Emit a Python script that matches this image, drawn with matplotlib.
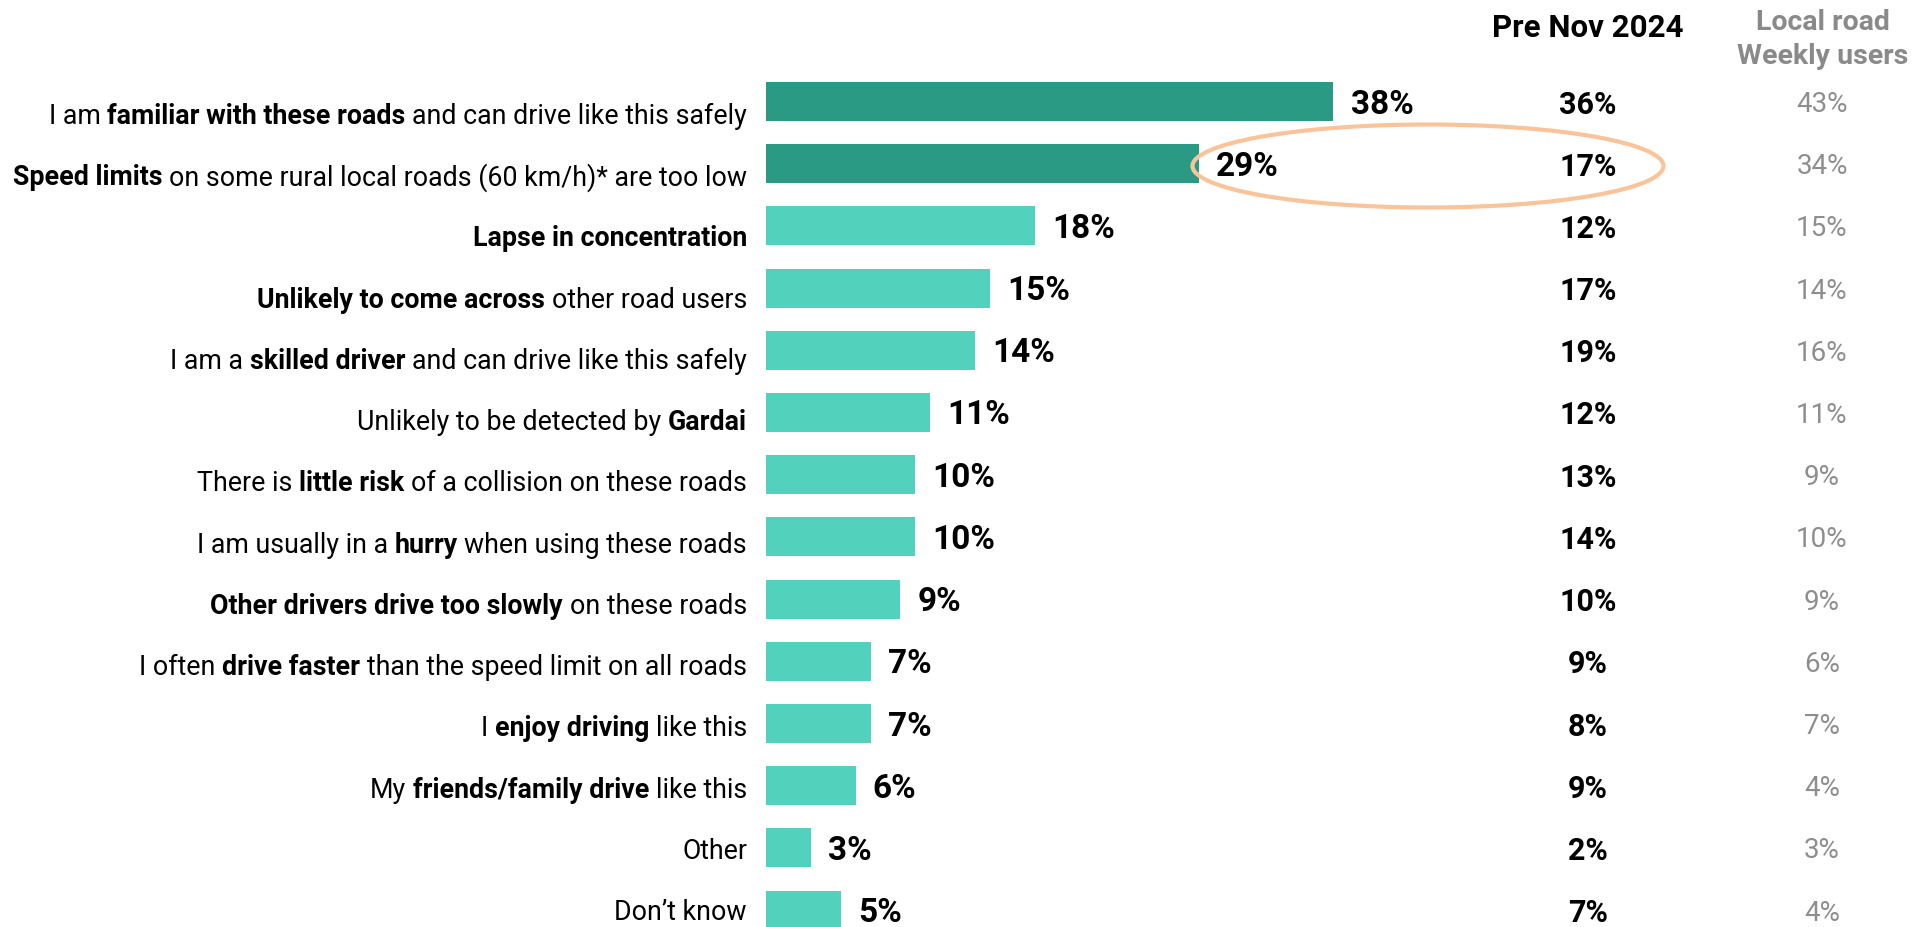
import matplotlib.pyplot as plt
from matplotlib.patches import Ellipse
from matplotlib.transforms import offset_copy, blended_transform_factory

plt.rcParams['font.family'] = ['Roboto', 'DejaVu Sans']

# label pieces: (text, bold) - a space goes between pieces
labels = [
    [('I am', False), ('familiar with these roads', True), ('and can drive like this safely', False)],
    [('Speed limits', True), ('on some rural local roads (60 km/h)* are too low', False)],
    [('Lapse in concentration', True)],
    [('Unlikely to come across', True), ('other road users', False)],
    [('I am a', False), ('skilled driver', True), ('and can drive like this safely', False)],
    [('Unlikely to be detected by', False), ('Gardai', True)],
    [('There is', False), ('little risk', True), ('of a collision on these roads', False)],
    [('I am usually in a', False), ('hurry', True), ('when using these roads', False)],
    [('Other drivers drive too slowly', True), ('on these roads', False)],
    [('I often', False), ('drive faster', True), ('than the speed limit on all roads', False)],
    [('I', False), ('enjoy driving', True), ('like this', False)],
    [('My', False), ('friends/family drive', True), ('like this', False)],
    [('Other', False)],
    [('Don\u2019t know', False)],
]
current = [38, 29, 18, 15, 14, 11, 10, 10, 9, 7, 7, 6, 3, 5]
pre_nov = [36, 17, 12, 17, 19, 12, 13, 14, 10, 9, 8, 9, 2, 7]
weekly = [43, 34, 15, 14, 16, 11, 9, 10, 9, 6, 7, 4, 3, 4]

W, H = 1918, 927
fig = plt.figure(figsize=(W / 100, H / 100), dpi=100)
ax = fig.add_axes([766 / W, 0, 1 - 766 / W, 1])
ax.axis('off')

px_per_pct = 14.93
pitch = 62.2
first = 101.5
ax.set_xlim(0, (W - 766) / px_per_pct)
ax.set_ylim((H - first) / pitch, -first / pitch)

rows = list(range(len(current)))
colors = ['#2a9a85' if i < 2 else '#52d1bc' for i in rows]
ax.barh(rows, current, height=0.63, color=colors)

down = offset_copy(ax.transData, fig, x=0, y=-3, units='dots')
for i, v in zip(rows, current):
    ax.text(v + 1.15, i, f'{v}%', ha='left', va='center', fontsize=24,
            fontweight='bold', color='black', transform=down)

colx = offset_copy(blended_transform_factory(fig.transFigure, ax.transData),
                   fig, x=0, y=-3, units='dots')
for i in rows:
    ax.text(1588 / W, i, f'{pre_nov[i]}%', transform=colx, ha='center', va='center',
            fontsize=22, fontweight='bold', color='black')
    ax.text(1822 / W, i, f'{weekly[i]}%', transform=colx, ha='center', va='center',
            fontsize=20, fontweight='normal', color='#8e8e8e')

fig.text(1588 / W, 1 - 28 / H, 'Pre Nov 2024', ha='center', va='center',
         fontsize=22.5, fontweight='bold', color='black')
fig.text(1823 / W, 1 - 22 / H, 'Local road', ha='center', va='center',
         fontsize=20.5, fontweight='bold', color='#8a8a8a')
fig.text(1823 / W, 1 - 56 / H, 'Weekly users', ha='center', va='center',
         fontsize=20.5, fontweight='bold', color='#8a8a8a')

# category labels with mixed bold pieces, built right to left
renderer = fig.canvas.get_renderer()
label_x = -(766 - 747) / px_per_pct
fs = 19.3
sp = fig.text(0, 0, 'a a', fontsize=fs)
sp2 = fig.text(0, 0, 'aa', fontsize=fs)
space = sp.get_window_extent(renderer).width - sp2.get_window_extent(renderer).width
sp.remove()
sp2.remove()
for i, parts in enumerate(labels):
    shift = 0
    dy = 14.7 - 0.92 * i
    for txt, bold in reversed(parts):
        t = ax.text(label_x, i, txt, ha='right', va='center', fontsize=fs,
                    fontweight='bold' if bold else 'normal', color='black',
                    transform=offset_copy(ax.transData, fig, x=-shift, y=-dy, units='dots'))
        shift += t.get_window_extent(renderer).width + space

ell = Ellipse((1428 / W, 1 - 166 / H), 471 / W, 83 / H, transform=fig.transFigure,
              fill=False, edgecolor='#f9c49a', linewidth=3)
fig.add_artist(ell)

fig.savefig('out.png', dpi=100)
